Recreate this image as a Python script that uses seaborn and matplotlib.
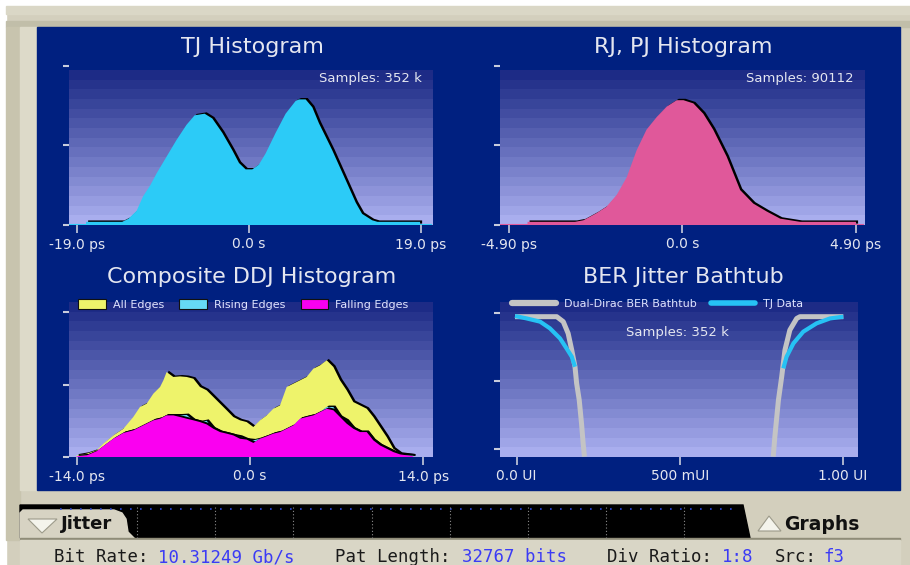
import matplotlib
import numpy as np
import seaborn as sns

matplotlib.use("Agg")
import matplotlib.pyplot as plt
import matplotlib.patheffects as pe
from matplotlib.colors import LinearSegmentedColormap
from matplotlib.lines import Line2D
from matplotlib.patches import Patch, Polygon, Rectangle


# --- data (counts are relative, 1.0 = top tick) ---
TJ_PS = [-18.0, -14.0, -13.3, -12.4, -11.7, -10.9, -10.2, -9.1, -8.0, -6.9, -6.0, -4.9,
         -4.05, -2.95, -1.84, -1.10, -0.37, 0.37, 1.10, 1.84, 2.95, 4.05, 5.15, 5.52,
         6.26, 7.0, 7.73, 9.2, 10.7, 11.8, 12.5, 13.6, 14.2, 18.9]
TJ_COUNTS = [0.02, 0.02, 0.04, 0.09, 0.18, 0.25, 0.325, 0.43, 0.535, 0.63, 0.69, 0.70,
             0.67, 0.58, 0.47, 0.39, 0.35, 0.35, 0.38, 0.45, 0.58, 0.70, 0.78, 0.79,
             0.79, 0.74, 0.64, 0.47, 0.28, 0.14, 0.07, 0.03, 0.02, 0.02]

RJ_PS = [-4.37, -3.03, -2.79, -2.42, -2.14, -1.85, -1.57, -1.29, -1.01, -0.72, -0.44, -0.16,
         0.03, 0.31, 0.59, 0.87, 1.25, 1.63, 2.0, 2.38, 2.76, 3.32, 4.9]
RJ_COUNTS = [0.02, 0.02, 0.03, 0.075, 0.115, 0.19, 0.30, 0.47, 0.60, 0.68, 0.745, 0.785,
             0.785, 0.765, 0.70, 0.60, 0.43, 0.22, 0.135, 0.085, 0.04, 0.02, 0.02]

DDJ_PS = [-13.99, -13.18, -12.38, -11.84, -11.03, -10.22, -9.42, -8.88, -8.34, -7.80,
          -7.26, -6.99, -6.73, -6.19, -5.65, -5.11, -4.57, -4.04, -3.50, -2.96, -2.42,
          -1.88, -1.35, -0.81, -0.27, 0.27, 0.81, 1.35, 1.88, 2.42, 2.96, 3.50, 4.04,
          4.57, 5.11, 5.65, 6.19, 6.73, 7.26, 7.80, 8.34, 8.88, 9.42, 9.95, 10.49,
          11.03, 11.57, 12.11, 13.18]
DDJ_ALL = [0.011, 0.023, 0.046, 0.092, 0.149, 0.195, 0.276, 0.345, 0.368, 0.437, 0.483,
           0.529, 0.586, 0.552, 0.556, 0.552, 0.540, 0.483, 0.460, 0.414, 0.368, 0.322,
           0.276, 0.253, 0.241, 0.207, 0.253, 0.287, 0.333, 0.356, 0.483, 0.506, 0.529,
           0.552, 0.609, 0.632, 0.667, 0.621, 0.529, 0.460, 0.379, 0.356, 0.333, 0.276,
           0.207, 0.138, 0.057, 0.023, 0.011]
DDJ_RISING = [0.005, 0.011, 0.040, 0.075, 0.126, 0.166, 0.184, 0.207, 0.230, 0.253, 0.264,
              0.276, 0.287, 0.287, 0.287, 0.290, 0.253, 0.241, 0.250, 0.195, 0.172, 0.161,
              0.149, 0.140, 0.120, 0.115, 0.126, 0.143, 0.161, 0.172, 0.195, 0.218, 0.264,
              0.276, 0.287, 0.310, 0.345, 0.345, 0.276, 0.250, 0.195, 0.172, 0.172, 0.115,
              0.080, 0.057, 0.034, 0.018, 0.011]
DDJ_FALLING = [0.005, 0.011, 0.040, 0.075, 0.126, 0.166, 0.184, 0.207, 0.230, 0.253, 0.264,
               0.276, 0.287, 0.287, 0.276, 0.264, 0.253, 0.241, 0.225, 0.195, 0.172, 0.161,
               0.149, 0.126, 0.120, 0.097, 0.126, 0.143, 0.161, 0.172, 0.195, 0.218, 0.264,
               0.276, 0.287, 0.310, 0.333, 0.322, 0.276, 0.230, 0.195, 0.172, 0.172, 0.115,
               0.080, 0.057, 0.034, 0.018, 0.005]
DDJ_LABELS = ["All Edges", "Rising Edges", "Falling Edges"]

# bathtub: x in UI, y in decades above the lowest tick
DD_LEFT_UI = [-0.005, 0.123, 0.143, 0.158, 0.169, 0.179, 0.184, 0.192, 0.199, 0.204, 0.208]
DD_LEFT_Y = [1.946, 1.946, 1.873, 1.70, 1.456, 1.21, 0.966, 0.72, 0.377, 0.083, -0.113]
DD_RIGHT_UI = [0.787, 0.792, 0.803, 0.813, 0.823, 0.838, 0.859, 0.869, 1.002]
DD_RIGHT_Y = [-0.113, 0.181, 0.72, 1.064, 1.456, 1.75, 1.92, 1.946, 1.946]
TJD_LEFT_UI = [-0.005, 0.031, 0.072, 0.102, 0.133, 0.153, 0.169, 0.179]
TJD_LEFT_Y = [1.956, 1.92, 1.873, 1.775, 1.627, 1.48, 1.358, 1.21]
TJD_RIGHT_UI = [0.818, 0.828, 0.849, 0.879, 0.920, 0.961, 1.002]
TJD_RIGHT_Y = [1.186, 1.358, 1.554, 1.725, 1.848, 1.92, 1.946]
BER_LABELS = ["Dual-Dirac BER Bathtub", "TJ Data"]

STATUS = [("Bit Rate:", "10.31249 Gb/s"), ("Pat Length:", "32767 bits"),
          ("Div Ratio:", "1:8"), ("Src:", "f3")]

W, H = 910, 565
PANEL = "#002080"
BEIGE = "#d3cfbd"
TEXT = "#e4e6f0"
TICK = "#c8ccdc"
GRAD = LinearSegmentedColormap.from_list("grad", ["#1d2b86", "#a9aeee"])

sns.set_style("white")
plt.rcParams["font.family"] = ["DejaVu Sans"]


def px_axes(fig, x0, y0, x1, y1):
    ax = fig.add_axes([x0 / W, 1 - y1 / H, (x1 - x0) / W, (y1 - y0) / H])
    ax.set_facecolor("none")
    for s in ax.spines.values():
        s.set_visible(False)
    return ax


def gradient(ax, xlim, y0, y1):
    ax.imshow(np.arange(16)[:, None], cmap=GRAD, aspect="auto", interpolation="nearest",
              extent=[xlim[0], xlim[1], y0, y1], zorder=0)
    ax.set_xlim(*xlim)


def style_ticks(ax, xt, xl, yt):
    ax.set_xticks(xt)
    ax.set_xticklabels(xl)
    ax.set_yticks(yt)
    ax.tick_params(axis="x", bottom=True, length=5.5, width=1.2, color=TICK, pad=3.5,
                   labelsize=10, labelcolor=TEXT)
    ax.tick_params(axis="y", left=True, length=4, width=1.5, color=TICK, labelleft=False)
    ax.grid(False)


def shadow_fill(ax, x, y, color):
    ax.fill_between(x, y, 0, color=color, lw=0, zorder=2,
                    path_effects=[pe.SimplePatchShadow(offset=(1.5, 1.0), shadow_rgbFace="black",
                                                       alpha=1.0), pe.Normal()])


fig = plt.figure(figsize=(W / 100, H / 100), dpi=100, facecolor=BEIGE)

# --- instrument frame ---
bg = fig.add_axes([0, 0, 1, 1])
bg.set_xlim(0, W)
bg.set_ylim(H, 0)
bg.axis("off")
bg.add_patch(Rectangle((0, 0), W, H, color=BEIGE))
bg.add_patch(Rectangle((0, 0), W, 6, color="white"))
bg.add_patch(Rectangle((0, 0), 6, H, color="white"))
bg.add_patch(Rectangle((6, 6), W, 8, color="#dad7c6"))
bg.add_patch(Rectangle((6, 21), W, 6, color="#c1bea9"))
bg.add_patch(Rectangle((6, 27), 14, 513, color="#c8c4ae"))
bg.add_patch(Rectangle((20, 27), 17, 463, color="#dddac9"))
bg.add_patch(Rectangle((37, 27), 863, 463, color=PANEL))
bg.add_patch(Polygon([(20, 505), (743, 505), (750, 538), (20, 538)], color="black"))
bg.plot([60, 740], [509, 509], color="#2a48e0", lw=1.2, ls=(0, (1, 5)))
for gx in [137, 215, 293, 372, 450, 528, 606, 684]:
    bg.plot([gx, gx], [507, 538], color="#8a8a8a", lw=0.8, ls=(0, (1, 2)))
bg.add_patch(Polygon([(20, 540), (20, 513), (23, 510), (114, 510), (122, 513), (126, 519),
                      (128, 532), (136, 540)], color="#d7d3c3"))
bg.add_patch(Polygon([(28, 519), (57, 519), (42, 533)], color="#f4f4ec", ec="#9c9a8a", lw=0.8))
bg.add_patch(Polygon([(758, 531), (781, 531), (769, 516)], color="#f4f4ec", ec="#9c9a8a", lw=0.8))
bg.text(61, 524, "Jitter", fontsize=13, fontweight="bold", color="#111111", va="center")
bg.text(784, 525, "Graphs", fontsize=13.5, fontweight="bold", color="#111111", va="center")
bg.add_patch(Rectangle((20, 538), 880, 2, color="#8f8c78"))
bg.add_patch(Rectangle((20, 540), 880, 25, color="#d9d6c6"))

label_x = [54, 335, 607, 775]
value_x = [158, 462, 722, 823]
for (lab, val), lx, vx in zip(STATUS, label_x, value_x):
    bg.text(lx, 562, lab, family="DejaVu Sans Mono", fontsize=12.5, color="#1a1a1a", va="baseline")
    bg.text(vx, 562, val, family="DejaVu Sans Mono", fontsize=12.5, color="#3b3bf5", va="baseline")

# titles
for cx, by, title in [(252, 53, "TJ Histogram"), (683, 53, "RJ, PJ Histogram"),
                      (252, 283, "Composite DDJ Histogram"), (683, 283, "BER Jitter Bathtub")]:
    bg.text(cx, by, title, fontsize=16, color=TEXT, ha="center", va="baseline")

# --- TJ histogram ---
ax = px_axes(fig, 69, 66, 432, 225)
gradient(ax, (-19.88, 20.22), 0, 0.969)
shadow_fill(ax, TJ_PS, TJ_COUNTS, "#2ccbf7")
ax.axhline(0, color="#2ccbf7", lw=1.5, zorder=3)
ax.set_ylim(0, 1)
style_ticks(ax, [-19, 0, 19], ["-19.0 ps", "0.0 s", "19.0 ps"], [0, 0.5, 1])

# --- RJ, PJ histogram ---
ax = px_axes(fig, 500, 66, 864, 225)
gradient(ax, (-5.146, 5.126), 0, 0.969)
shadow_fill(ax, RJ_PS, RJ_COUNTS, "#e0589a")
ax.axhline(0, color="#e0589a", lw=1.5, zorder=3)
ax.set_ylim(0, 1)
style_ticks(ax, [-4.9, 0, 4.9], ["-4.90 ps", "0.0 s", "4.90 ps"], [0, 0.5, 1])

# --- composite DDJ ---
ax = px_axes(fig, 69, 302, 432, 457)
gradient(ax, (-14.61, 14.69), 0, 1.069)
ddj_colors = ["#eef36b", "#66d9f5", "#fa00f0"]
for ys, c in zip([DDJ_ALL, DDJ_RISING, DDJ_FALLING], ddj_colors):
    shadow_fill(ax, DDJ_PS, ys, c)
ax.set_ylim(0, 1.069)
style_ticks(ax, [-14, 0, 14], ["-14.0 ps", "0.0 s", "14.0 ps"], [0, 0.5, 1])
handles = [Patch(facecolor=c, edgecolor="#101010", lw=0.8) for c in ddj_colors]
ax.legend(handles, DDJ_LABELS, loc="center", bbox_to_anchor=(0.48, 0.985), ncol=3,
          frameon=False, fontsize=8, labelcolor="#dfe4ff", handlelength=2.5, handleheight=1.0,
          handletextpad=0.6, columnspacing=1.4, borderpad=0)

# --- BER bathtub ---
ax = px_axes(fig, 500, 302, 858, 457)
gradient(ax, (-0.051, 1.047), -0.118, 2.162)
for xs, ys in [(DD_LEFT_UI, DD_LEFT_Y), (DD_RIGHT_UI, DD_RIGHT_Y)]:
    sns.lineplot(x=xs, y=ys, ax=ax, color="#c4c4c4", lw=3.6, sort=False, estimator=None,
                 solid_capstyle="butt", zorder=3)
for xs, ys in [(TJD_LEFT_UI, TJD_LEFT_Y), (TJD_RIGHT_UI, TJD_RIGHT_Y)]:
    sns.lineplot(x=xs, y=ys, ax=ax, color="#26c2f4", lw=3.0, sort=False, estimator=None,
                 solid_capstyle="butt", zorder=4)
ax.set_xlim(-0.051, 1.047)
ax.set_ylim(-0.118, 2.162)
style_ticks(ax, [0, 0.5, 1], ["0.0 UI", "500 mUI", "1.00 UI"], [0, 1, 2])
ax.set_xlabel("")
ax.set_ylabel("")
handles = [Line2D([], [], color="#c4c4c4", lw=4.5), Line2D([], [], color="#26c2f4", lw=4.0)]
ax.legend(handles, BER_LABELS, loc="center", bbox_to_anchor=(0.44, 0.985), ncol=2,
          frameon=False, fontsize=8, labelcolor="#dfe4ff", handlelength=4.0,
          handletextpad=0.7, columnspacing=1.3, borderpad=0)

# sample counts sit above the plot gradients
for x, y, s, ha in [(422, 82, "Samples: 352 k", "right"), (854, 82, "Samples: 90112", "right"),
                    (677, 336, "Samples: 352 k", "center")]:
    fig.text(x, y, s, transform=bg.transData, fontsize=9.5, color=TEXT, ha=ha,
             va="baseline", zorder=10)

fig.savefig("out.png", dpi=100, facecolor=BEIGE)
